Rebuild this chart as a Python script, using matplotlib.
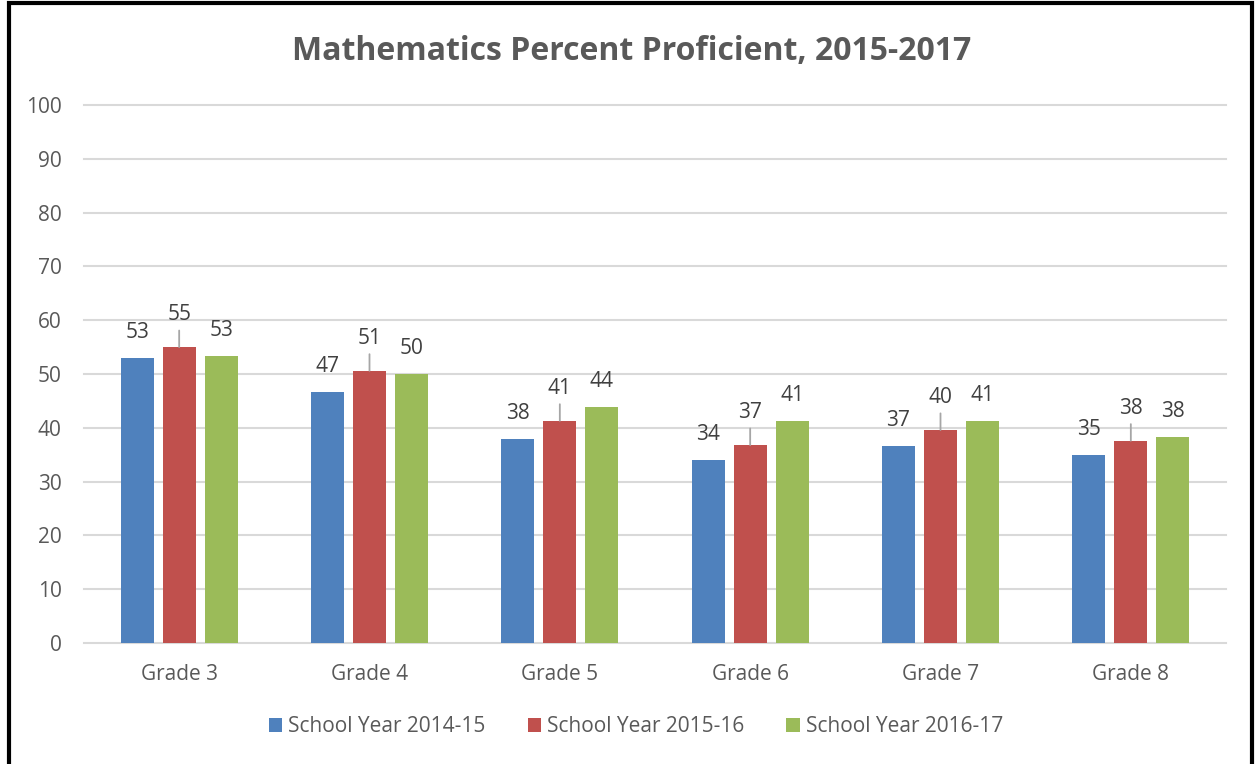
import matplotlib
matplotlib.use("Agg")
import matplotlib.pyplot as plt
import numpy as np
from matplotlib.patches import Rectangle

categories = ["Grade 3", "Grade 4", "Grade 5", "Grade 6", "Grade 7", "Grade 8"]
series_names = ["School Year 2014-15", "School Year 2015-16", "School Year 2016-17"]
sy_2014_15 = [53.0, 46.6, 37.9, 34.0, 36.6, 34.9]
sy_2015_16 = [55.0, 50.6, 41.3, 36.8, 39.6, 37.6]
sy_2016_17 = [53.3, 50.0, 43.9, 41.3, 41.2, 38.3]
yticks = [0, 10, 20, 30, 40, 50, 60, 70, 80, 90, 100]
title = "Mathematics Percent Proficient, 2015-2017"

colors = ["#4F81BD", "#C0504D", "#9BBB59"]
plt.rcParams["font.family"] = ["Open Sans", "DejaVu Sans"]

W, H = 1256, 764
fig = plt.figure(figsize=(W / 100, H / 100), dpi=100)
ax = fig.add_axes([84 / W, (H - 643) / H, (1226 - 84) / W, (643 - 105) / H])

x = np.arange(len(categories))
width = 0.174
step = 0.221
all_series = [sy_2014_15, sy_2015_16, sy_2016_17]
for i, (vals, col, name) in enumerate(zip(all_series, colors, series_names)):
    xs = x + (i - 1) * step
    ax.bar(xs, vals, width=width, color=col, label=name, zorder=2)
    for xi, v in zip(xs, vals):
        if i == 1:
            ax.annotate(f"{v:.0f}", xy=(xi, v), xytext=(0, 23.5), textcoords="offset points",
                        ha="center", va="center", fontsize=15, color="#404040",
                        arrowprops=dict(arrowstyle="-", color="#A6A6A6", lw=1.3,
                                        shrinkA=2, shrinkB=0))
        else:
            ax.annotate(f"{v:.0f}", xy=(xi, v), xytext=(0, 18.5), textcoords="offset points",
                        ha="center", va="center", fontsize=15, color="#404040")

ax.set_xlim(-0.5, len(categories) - 0.5)
ax.set_ylim(0, 100)
ax.set_yticks(yticks)
ax.set_xticks(x)
ax.set_xticklabels(categories)
ax.tick_params(axis="both", length=0, labelsize=15, colors="#595959")
ax.tick_params(axis="y", pad=16)
ax.tick_params(axis="x", pad=15)
ax.grid(axis="y", color="#D9D9D9", lw=1.5, zorder=0)
ax.set_axisbelow(True)
for s in ax.spines.values():
    s.set_visible(False)
for gl in ax.get_ygridlines():
    gl.set_clip_on(False)

fig.text(632 / W, 1 - 51 / H, title, ha="center", va="center", fontsize=23,
         fontweight="bold", color="#595959")

leg = fig.legend(loc="center", bbox_to_anchor=(636 / W, 1 - 727 / H), ncol=3, frameon=False,
                 fontsize=15, handlelength=0.65, handleheight=0.65, handletextpad=0.3,
                 columnspacing=2.0, labelcolor="#595959")

# outer border
fig.patches.append(Rectangle((9 / W, -0.05), (1252 - 9) / W, 1.05 - 3 / H,
                             transform=fig.transFigure, fill=False, edgecolor="black",
                             lw=3, zorder=10))
fig.savefig("out.png", dpi=100)
